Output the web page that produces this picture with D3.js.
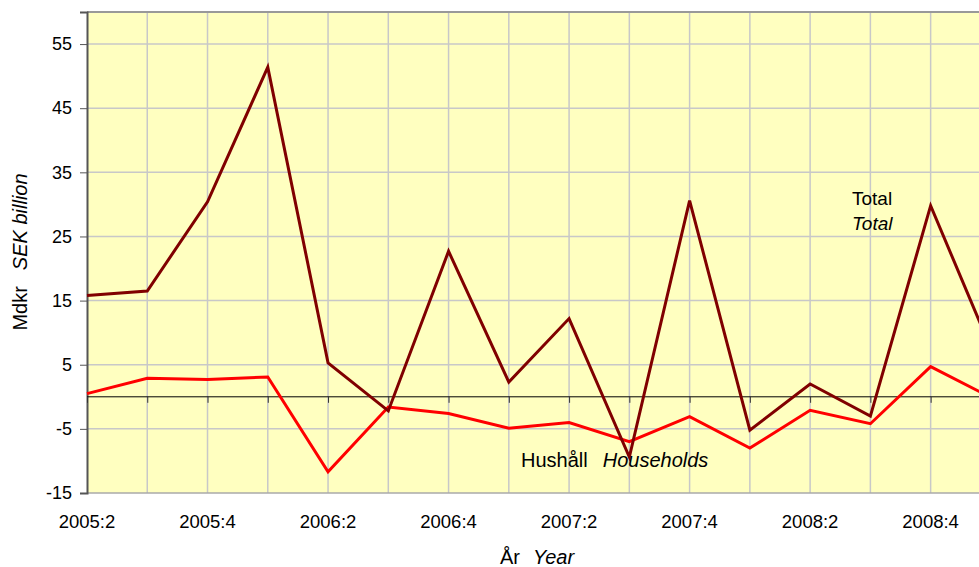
<!DOCTYPE html>
<html>
<head>
<meta charset="utf-8">
<script src="https://cdn.jsdelivr.net/npm/d3@7"></script>
<style>
  body { margin: 0; background: #fff; }
  text { font-family: "Liberation Sans", Arial, sans-serif; fill: #000; }
</style>
</head>
<body>
<script>
// quarters shown on the x axis
var quarters = ["2005:2","2005:3","2005:4","2006:1","2006:2","2006:3","2006:4","2007:1",
                "2007:2","2007:3","2007:4","2008:1","2008:2","2008:3","2008:4","2009:1"];
var total      = [15.8, 16.5, 30.4, 51.4, 5.3, -2.2, 22.7, 2.3, 12.2, -9.4, 30.6, -5.2, 2.0, -3.0, 29.8, 7.5];
var households = [0.5, 2.9, 2.7, 3.1, -11.7, -1.6, -2.6, -4.9, -4.0, -7.0, -3.1, -8.0, -2.1, -4.2, 4.7, -0.1];
var yTicks = [-15, -5, 5, 15, 25, 35, 45, 55];

var width = 979, height = 567;
var plotLeft = 87, plotTop = 12, plotBottom = 493;
var step = 60.26;

var svg = d3.select("body").append("svg")
    .attr("width", width)
    .attr("height", height);

var x = d3.scalePoint().domain(quarters).range([plotLeft, plotLeft + step * (quarters.length - 1)]);
var y = d3.scaleLinear().domain([-15, 60]).range([plotBottom, plotTop]);

// plot background
svg.append("rect")
    .attr("x", plotLeft).attr("y", plotTop)
    .attr("width", x.range()[1] - plotLeft + 10).attr("height", plotBottom - plotTop)
    .attr("fill", "#ffffc0");

// grid
svg.append("g").selectAll("line").data(quarters.slice(1)).enter().append("line")
    .attr("x1", function(d) { return x(d); }).attr("x2", function(d) { return x(d); })
    .attr("y1", plotTop).attr("y2", plotBottom)
    .attr("stroke", "#c8c8c8").attr("stroke-width", 1.5);
svg.append("g").selectAll("line").data(yTicks.slice(1)).enter().append("line")
    .attr("x1", plotLeft).attr("x2", width)
    .attr("y1", function(d) { return y(d); }).attr("y2", function(d) { return y(d); })
    .attr("stroke", "#c8c8c8").attr("stroke-width", 1.5);

// top / bottom borders
svg.append("line").attr("x1", plotLeft).attr("x2", width).attr("y1", plotTop).attr("y2", plotTop)
    .attr("stroke", "#999").attr("stroke-width", 2);
svg.append("line").attr("x1", plotLeft).attr("x2", width).attr("y1", plotBottom).attr("y2", plotBottom)
    .attr("stroke", "#aaa").attr("stroke-width", 1.5);

// y axis
var yAxis = d3.axisLeft(y).tickValues(yTicks).tickSize(7).tickPadding(8)
    .tickFormat(function(d) { return String(d); });
var gy = svg.append("g").attr("transform", "translate(" + plotLeft + ",0)").call(yAxis);
gy.select(".domain").attr("stroke", "#555").attr("stroke-width", 2);
gy.selectAll(".tick line").attr("stroke", "#555");
gy.selectAll("text").style("font-size", "18px").style("font-family", "Liberation Sans, Arial, sans-serif");

// zero line with ticks
var x0 = d3.axisBottom(x).tickSize(6).tickFormat("");
var gz = svg.append("g").attr("transform", "translate(0," + y(0) + ")").call(x0);
gz.select(".domain").attr("d", "M" + plotLeft + ",0H" + width).attr("stroke", "#000");
gz.selectAll(".tick line").attr("stroke", "#333");

// x labels every other quarter
svg.append("g").selectAll("text").data(quarters.filter(function(d, i) { return i % 2 === 0; }))
  .enter().append("text")
    .attr("x", function(d) { return x(d); })
    .attr("y", 528)
    .attr("text-anchor", "middle")
    .style("font-size", "18.5px")
    .text(function(d) { return d; });

// lines
var line = d3.line()
    .x(function(d, i) { return x(quarters[i]); })
    .y(function(d) { return y(d); });

svg.append("path").datum(households)
    .attr("d", line).attr("fill", "none")
    .attr("stroke", "#ff0000").attr("stroke-width", 3).attr("stroke-linejoin", "miter");
svg.append("path").datum(total)
    .attr("d", line).attr("fill", "none")
    .attr("stroke", "#800000").attr("stroke-width", 3).attr("stroke-linejoin", "miter");

// annotations
var t1 = svg.append("text").attr("x", 852).attr("y", 205).style("font-size", "19px");
t1.append("tspan").text("Total");
t1.append("tspan").attr("x", 852).attr("dy", 25).style("font-style", "italic").text("Total");

var t2 = svg.append("text").attr("x", 521).attr("y", 467).style("font-size", "20px");
t2.append("tspan").text("Hushåll");
t2.append("tspan").attr("dx", 15).style("font-style", "italic").text("Households");

// axis titles
var xt = svg.append("text").attr("x", 500).attr("y", 564).style("font-size", "20px");
xt.append("tspan").text("År");
xt.append("tspan").attr("dx", 13).style("font-style", "italic").text("Year");

var yt = svg.append("text").attr("transform", "translate(27,252) rotate(-90)")
    .attr("text-anchor", "middle").style("font-size", "20px");
yt.append("tspan").text("Mdkr");
yt.append("tspan").attr("dx", 16).style("font-style", "italic").text("SEK billion");
</script>
</body>
</html>
